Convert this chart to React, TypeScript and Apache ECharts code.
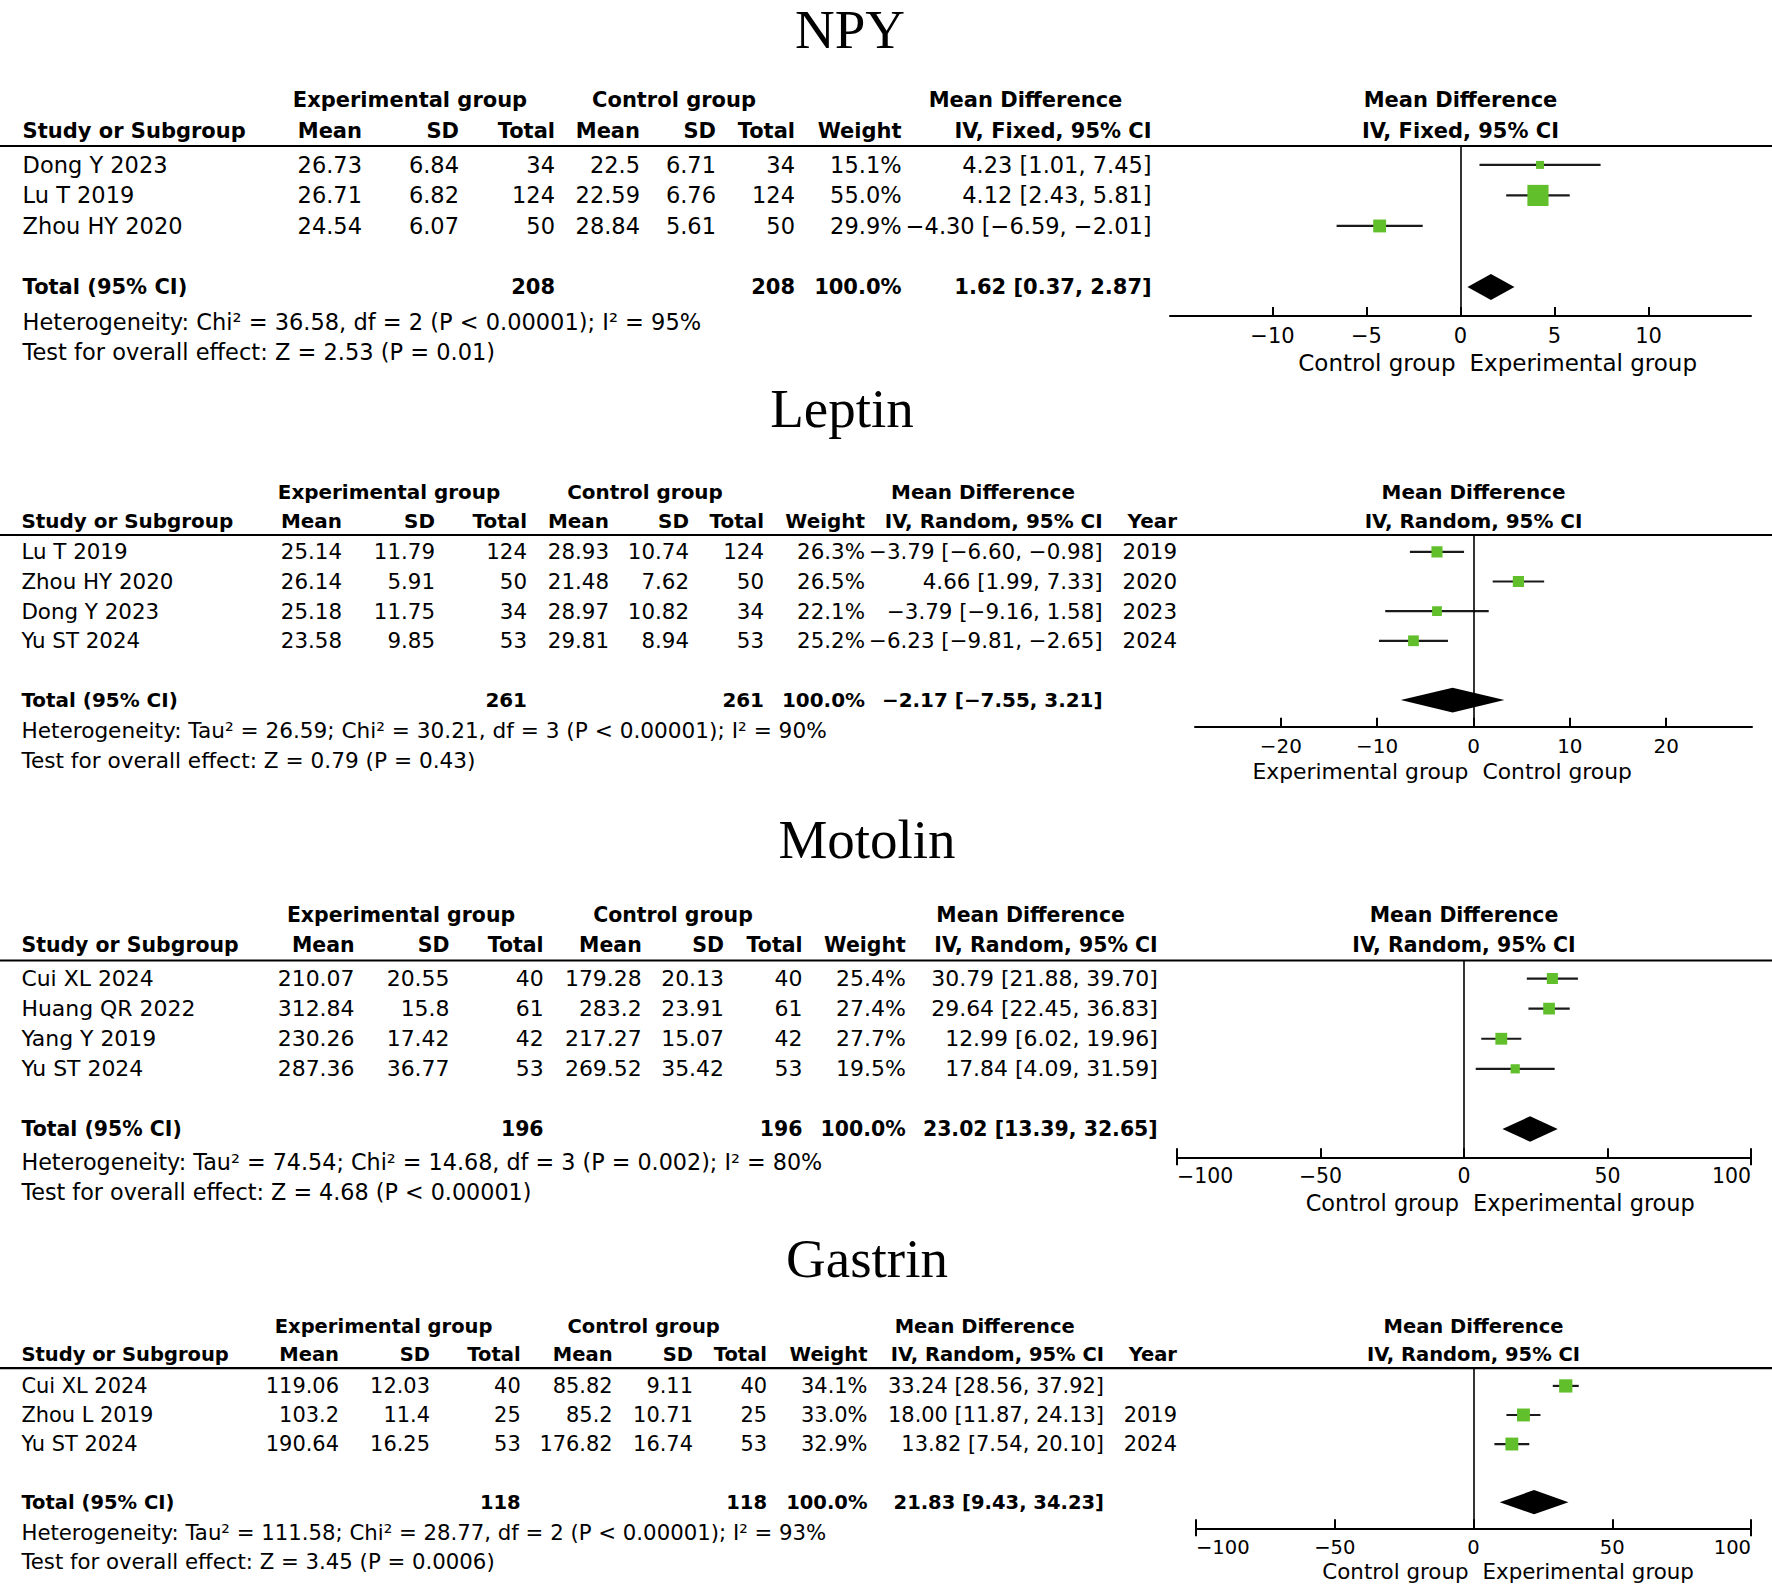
import React, { useEffect, useRef } from "react";
import * as echarts from "echarts";

const W = 1772;
const H = 1587;
const GREEN = "#62BF2C";
const SANS = "'DejaVu Sans', Verdana, sans-serif";
const SERIF = "'Liberation Serif', 'Times New Roman', serif";

// ---------- NPY ----------
const npyTitle = "NPY";
const npyMethod = "IV, Fixed, 95% CI";
const npyStudies = ["Dong Y 2023", "Lu T 2019", "Zhou HY 2020"];
const npyExpMean = [26.73, 26.71, 24.54];
const npyExpSD = [6.84, 6.82, 6.07];
const npyExpN = [34, 124, 50];
const npyCtlMean = [22.5, 22.59, 28.84];
const npyCtlSD = [6.71, 6.76, 5.61];
const npyCtlN = [34, 124, 50];
const npyWeight = [15.1, 55.0, 29.9];
const npyMD = [4.23, 4.12, -4.3];
const npyLo = [1.01, 2.43, -6.59];
const npyHi = [7.45, 5.81, -2.01];
const npyYear: string[] = [];
const npyTotal = [208, 208, 100.0, 1.62, 0.37, 2.87];
const npyHet = "Heterogeneity: Chi² = 36.58, df = 2 (P < 0.00001); I² = 95%";
const npyTest = "Test for overall effect: Z = 2.53 (P = 0.01)";
const npyTicks = [-10, -5, 0, 5, 10];
const npyFavours = ["Control group", "Experimental group"];

// ---------- Leptin ----------
const lepTitle = "Leptin";
const lepMethod = "IV, Random, 95% CI";
const lepStudies = ["Lu T 2019", "Zhou HY 2020", "Dong Y 2023", "Yu ST 2024"];
const lepExpMean = [25.14, 26.14, 25.18, 23.58];
const lepExpSD = [11.79, 5.91, 11.75, 9.85];
const lepExpN = [124, 50, 34, 53];
const lepCtlMean = [28.93, 21.48, 28.97, 29.81];
const lepCtlSD = [10.74, 7.62, 10.82, 8.94];
const lepCtlN = [124, 50, 34, 53];
const lepWeight = [26.3, 26.5, 22.1, 25.2];
const lepMD = [-3.79, 4.66, -3.79, -6.23];
const lepLo = [-6.6, 1.99, -9.16, -9.81];
const lepHi = [-0.98, 7.33, 1.58, -2.65];
const lepYear = ["2019", "2020", "2023", "2024"];
const lepTotal = [261, 261, 100.0, -2.17, -7.55, 3.21];
const lepHet = "Heterogeneity: Tau² = 26.59; Chi² = 30.21, df = 3 (P < 0.00001); I² = 90%";
const lepTest = "Test for overall effect: Z = 0.79 (P = 0.43)";
const lepTicks = [-20, -10, 0, 10, 20];
const lepFavours = ["Experimental group", "Control group"];

// ---------- Motolin ----------
const motTitle = "Motolin";
const motMethod = "IV, Random, 95% CI";
const motStudies = ["Cui XL 2024", "Huang QR 2022", "Yang Y 2019", "Yu ST 2024"];
const motExpMean = [210.07, 312.84, 230.26, 287.36];
const motExpSD = [20.55, 15.8, 17.42, 36.77];
const motExpN = [40, 61, 42, 53];
const motCtlMean = [179.28, 283.2, 217.27, 269.52];
const motCtlSD = [20.13, 23.91, 15.07, 35.42];
const motCtlN = [40, 61, 42, 53];
const motWeight = [25.4, 27.4, 27.7, 19.5];
const motMD = [30.79, 29.64, 12.99, 17.84];
const motLo = [21.88, 22.45, 6.02, 4.09];
const motHi = [39.7, 36.83, 19.96, 31.59];
const motYear: string[] = [];
const motTotal = [196, 196, 100.0, 23.02, 13.39, 32.65];
const motHet = "Heterogeneity: Tau² = 74.54; Chi² = 14.68, df = 3 (P = 0.002); I² = 80%";
const motTest = "Test for overall effect: Z = 4.68 (P < 0.00001)";
const motTicks = [-100, -50, 0, 50, 100];
const motFavours = ["Control group", "Experimental group"];

// ---------- Gastrin ----------
const gasTitle = "Gastrin";
const gasMethod = "IV, Random, 95% CI";
const gasStudies = ["Cui XL 2024", "Zhou L 2019", "Yu ST 2024"];
const gasExpMean = [119.06, 103.2, 190.64];
const gasExpSD = [12.03, 11.4, 16.25];
const gasExpN = [40, 25, 53];
const gasCtlMean = [85.82, 85.2, 176.82];
const gasCtlSD = [9.11, 10.71, 16.74];
const gasCtlN = [40, 25, 53];
const gasWeight = [34.1, 33.0, 32.9];
const gasMD = [33.24, 18.0, 13.82];
const gasLo = [28.56, 11.87, 7.54];
const gasHi = [37.92, 24.13, 20.1];
const gasYear = ["", "2019", "2024"];
const gasTotal = [118, 118, 100.0, 21.83, 9.43, 34.23];
const gasHet = "Heterogeneity: Tau² = 111.58; Chi² = 28.77, df = 2 (P < 0.00001); I² = 93%";
const gasTest = "Test for overall effect: Z = 3.45 (P = 0.0006)";
const gasTicks = [-100, -50, 0, 50, 100];
const gasFavours = ["Control group", "Experimental group"];

const panels = [
  { title: npyTitle, method: npyMethod, studies: npyStudies, expMean: npyExpMean, expSD: npyExpSD, expN: npyExpN, ctlMean: npyCtlMean, ctlSD: npyCtlSD, ctlN: npyCtlN, weight: npyWeight, md: npyMD, lo: npyLo, hi: npyHi, year: npyYear, total: npyTotal, het: npyHet, test: npyTest, ticks: npyTicks, favours: npyFavours },
  { title: lepTitle, method: lepMethod, studies: lepStudies, expMean: lepExpMean, expSD: lepExpSD, expN: lepExpN, ctlMean: lepCtlMean, ctlSD: lepCtlSD, ctlN: lepCtlN, weight: lepWeight, md: lepMD, lo: lepLo, hi: lepHi, year: lepYear, total: lepTotal, het: lepHet, test: lepTest, ticks: lepTicks, favours: lepFavours },
  { title: motTitle, method: motMethod, studies: motStudies, expMean: motExpMean, expSD: motExpSD, expN: motExpN, ctlMean: motCtlMean, ctlSD: motCtlSD, ctlN: motCtlN, weight: motWeight, md: motMD, lo: motLo, hi: motHi, year: motYear, total: motTotal, het: motHet, test: motTest, ticks: motTicks, favours: motFavours },
  { title: gasTitle, method: gasMethod, studies: gasStudies, expMean: gasExpMean, expSD: gasExpSD, expN: gasExpN, ctlMean: gasCtlMean, ctlSD: gasCtlSD, ctlN: gasCtlN, weight: gasWeight, md: gasMD, lo: gasLo, hi: gasHi, year: gasYear, total: gasTotal, het: gasHet, test: gasTest, ticks: gasTicks, favours: gasFavours },
];

// layout (pixel positions)
const layouts = [
  { titleX: 850, titleY: 29, h1: 99.5, h2: 130.5, top: 146, axisY: 316, yMin: -0.62, yMax: 4.95,
    c: [22.6, 362, 459, 555, 640, 716, 795, 901.6, 1151.6, 0], g: [410, 674, 1025.5],
    hetY: 321.5, testY: 352, fL: 1170, fR: 1751, xLim: 15.45, subY: 363, sc: 1, hs: 1 },
  { titleX: 842, titleY: 408, h1: 491.7, h2: 520.7, top: 535, axisY: 726.7, yMin: -0.57, yMax: 5.9,
    c: [21.4, 342, 435, 527, 609, 689, 764, 865, 1102.6, 1177], g: [389, 645, 983],
    hetY: 730, testY: 760, fL: 1195, fR: 1752, xLim: 28.9, subY: 771.7, sc: 0.95, hs: 0.962 },
  { titleX: 867, titleY: 839, h1: 915, h2: 945, top: 960.5, axisY: 1157.3, yMin: -0.6, yMax: 5.94,
    c: [21.4, 354.5, 449.5, 543.6, 641.7, 724, 802.5, 905.8, 1157.7, 0], g: [401, 673, 1030.6],
    hetY: 1162, testY: 1191.7, fL: 1177, fR: 1751, xLim: 100, subY: 1203, sc: 0.975, hs: 0.99 },
  { titleX: 867, titleY: 1258, h1: 1326, h2: 1354.3, top: 1368.2, axisY: 1528.3, yMin: -0.61, yMax: 4.9,
    c: [21.4, 339, 430, 520.7, 612.6, 693, 767, 867.5, 1104, 1177], g: [383.6, 643.6, 984.7],
    hetY: 1532, testY: 1561, fL: 1196, fR: 1751, xLim: 100, subY: 1571.7, sc: 0.93, hs: 0.945 },
];

const fmt = (v: number, d = 2) => v.toFixed(d).replace(/-/g, "\u2212");
const ciStr = (m: number, l: number, h: number) => `${fmt(m)} [${fmt(l)}, ${fmt(h)}]`;

function txt(text: string, x: number, y: number, font: string, align: string, extra: any = {}) {
  return {
    type: "text",
    x,
    y,
    silent: true,
    style: {
      text,
      font,
      fill: "#000",
      align,
      verticalAlign: "middle",
      textAlign: align,
      textVerticalAlign: "middle",
      ...extra,
    },
  };
}

function buildOption() {
  const grid: any[] = [];
  const xAxis: any[] = [];
  const yAxis: any[] = [];
  const series: any[] = [];
  const graphic: any[] = [];

  panels.forEach((p, i) => {
    const L = layouts[i];
    const reg = `${(22.5 * L.sc).toFixed(2)}px ${SANS}`;
    const hetFont = `${(22.5 * L.hs).toFixed(2)}px ${SANS}`;
    const bold = `bold ${(21 * L.sc).toFixed(2)}px ${SANS}`;
    const zeroX = (L.fL + L.fR) / 2;
    const n = p.studies.length;
    const hasYear = p.year.length > 0;
    const endsOnAxis = p.ticks[p.ticks.length - 1] === L.xLim;

    grid.push({
      left: L.fL,
      width: L.fR - L.fL,
      top: L.top,
      height: L.axisY - L.top,
      containLabel: false,
      outerBoundsMode: "none",
    });
    xAxis.push({
      gridIndex: i,
      type: "value",
      min: -L.xLim,
      max: L.xLim,
      position: "bottom",
      axisLine: { show: true, onZero: false, lineStyle: { color: "#000", width: 2 } },
      axisTick: { show: true, inside: true, length: 9, customValues: p.ticks, lineStyle: { color: "#000", width: 2 } },
      axisLabel: {
        show: true,
        customValues: p.ticks,
        formatter: (v: number) => String(v).replace("-", "\u2212"),
        color: "#000",
        fontFamily: SANS,
        fontSize: 21 * L.sc,
        margin: 9,
        alignMinLabel: endsOnAxis ? "left" : "center",
        alignMaxLabel: endsOnAxis ? "right" : "center",
      },
      splitLine: { show: false },
    });
    yAxis.push({ gridIndex: i, type: "value", min: L.yMin, max: L.yMax, inverse: true, show: false });

    // table rows
    const rows: any[] = [];
    for (let k = 0; k < n; k++) {
      const cells = [
        [p.studies[k], L.c[0], "left"],
        [String(p.expMean[k]), L.c[1], "right"],
        [String(p.expSD[k]), L.c[2], "right"],
        [String(p.expN[k]), L.c[3], "right"],
        [String(p.ctlMean[k]), L.c[4], "right"],
        [String(p.ctlSD[k]), L.c[5], "right"],
        [String(p.ctlN[k]), L.c[6], "right"],
        [p.weight[k].toFixed(1) + "%", L.c[7], "right"],
        [ciStr(p.md[k], p.lo[k], p.hi[k]), L.c[8], "right"],
      ];
      if (hasYear && p.year[k]) cells.push([p.year[k], L.c[9], "right"]);
      rows.push({ value: [0, k], cells, font: reg });
    }
    const t = p.total;
    rows.push({
      value: [0, n + 1],
      font: bold,
      cells: [
        ["Total (95% CI)", L.c[0], "left"],
        [String(t[0]), L.c[3], "right"],
        [String(t[1]), L.c[6], "right"],
        [t[2].toFixed(1) + "%", L.c[7], "right"],
        [ciStr(t[3], t[4], t[5]), L.c[8], "right"],
      ],
    });

    series.push({
      type: "custom",
      xAxisIndex: i,
      yAxisIndex: i,
      clip: false,
      silent: true,
      data: rows.map((r) => ({ value: r.value })),
      renderItem: (params: any, api: any) => {
        const r = rows[params.dataIndex];
        const y = api.coord([0, api.value(1)])[1];
        return {
          type: "group",
          children: r.cells.map((c: any) => txt(c[0], c[1], y, r.font, c[2])),
        };
      },
    });

    // study markers
    series.push({
      type: "custom",
      xAxisIndex: i,
      yAxisIndex: i,
      clip: false,
      silent: true,
      data: p.md.map((m, k) => [m, k, p.lo[k], p.hi[k], p.weight[k]]),
      renderItem: (params: any, api: any) => {
        const row = api.value(1);
        const pm = api.coord([api.value(0), row]);
        const pl = api.coord([api.value(2), row]);
        const ph = api.coord([api.value(3), row]);
        const s = (3 + 0.33 * api.value(4)) * L.sc;
        return {
          type: "group",
          children: [
            { type: "line", shape: { x1: pl[0], y1: pl[1], x2: ph[0], y2: ph[1] }, style: { stroke: "#1a1a1a", lineWidth: 2.2 } },
            { type: "rect", shape: { x: pm[0] - s / 2, y: pm[1] - s / 2, width: s, height: s }, style: { fill: GREEN } },
          ],
        };
      },
      markLine: {
        silent: true,
        symbol: ["none", "none"],
        label: { show: false },
        lineStyle: { color: "#000", width: 1.6, type: "solid" },
        data: [{ xAxis: 0 }],
      },
    });

    // total diamond
    series.push({
      type: "custom",
      xAxisIndex: i,
      yAxisIndex: i,
      clip: false,
      silent: true,
      data: [[t[3], n + 1, t[4], t[5]]],
      renderItem: (params: any, api: any) => {
        const row = api.value(1);
        const pm = api.coord([api.value(0), row]);
        const pl = api.coord([api.value(2), row]);
        const ph = api.coord([api.value(3), row]);
        const hh = 13 * L.sc;
        return {
          type: "polygon",
          shape: { points: [[pl[0], pl[1]], [pm[0], pm[1] - hh], [ph[0], ph[1]], [pm[0], pm[1] + hh]] },
          style: { fill: "#000" },
        };
      },
    });

    // end caps crossing the axis line where the scale ends on a tick
    if (endsOnAxis) {
      const ends = [p.ticks[0], p.ticks[p.ticks.length - 1]];
      series.push({
        type: "custom",
        xAxisIndex: i,
        yAxisIndex: i,
        clip: false,
        silent: true,
        data: ends.map((v) => [v, L.yMax]),
        renderItem: (params: any, api: any) => {
          const pt = api.coord([api.value(0), api.value(1)]);
          return {
            type: "line",
            shape: { x1: pt[0], y1: pt[1] - 8, x2: pt[0], y2: pt[1] + 8 },
            style: { stroke: "#000", lineWidth: 2 },
          };
        },
      });
    }

    // graphics
    graphic.push(txt(p.title, L.titleX, L.titleY, `55px ${SERIF}`, "center"));
    graphic.push(txt("Experimental group", L.g[0], L.h1, bold, "center"));
    graphic.push(txt("Control group", L.g[1], L.h1, bold, "center"));
    graphic.push(txt("Mean Difference", L.g[2], L.h1, bold, "center"));
    graphic.push(txt("Mean Difference", zeroX, L.h1, bold, "center"));
    const h2 = [
      ["Study or Subgroup", L.c[0], "left"],
      ["Mean", L.c[1], "right"],
      ["SD", L.c[2], "right"],
      ["Total", L.c[3], "right"],
      ["Mean", L.c[4], "right"],
      ["SD", L.c[5], "right"],
      ["Total", L.c[6], "right"],
      ["Weight", L.c[7], "right"],
      [p.method, L.c[8], "right"],
    ];
    if (hasYear) h2.push(["Year", L.c[9], "right"]);
    h2.forEach((h: any) => graphic.push(txt(h[0], h[1], L.h2, bold, h[2])));
    graphic.push(txt(p.method, zeroX, L.h2, bold, "center"));
    graphic.push({
      type: "line",
      silent: true,
      shape: { x1: 0, y1: L.top, x2: W, y2: L.top },
      style: { stroke: "#000", lineWidth: 2.2 },
    });
    graphic.push(txt(p.het, L.c[0], L.hetY, hetFont, "left"));
    graphic.push(txt(p.test, L.c[0], L.testY, hetFont, "left"));
    const subFont = `${(23 * L.sc).toFixed(2)}px ${SANS}`;
    graphic.push(txt(p.favours[0], zeroX - 5, L.subY, subFont, "right"));
    graphic.push(txt(p.favours[1], zeroX + 9, L.subY, subFont, "left"));
  });

  return {
    animation: false,
    backgroundColor: "#fff",
    grid,
    xAxis,
    yAxis,
    series,
    graphic: { elements: graphic },
  };
}

export default function App() {
  const ref = useRef<HTMLDivElement>(null);
  useEffect(() => {
    if (!ref.current) return;
    const chart = echarts.init(ref.current, null, { renderer: "svg", width: W, height: H });
    chart.setOption(buildOption() as any);
    return () => chart.dispose();
  }, []);
  return (
    <div
      ref={ref}
      style={{ position: "absolute", left: 0, top: 0, width: W, height: H, background: "#fff" }}
    />
  );
}
